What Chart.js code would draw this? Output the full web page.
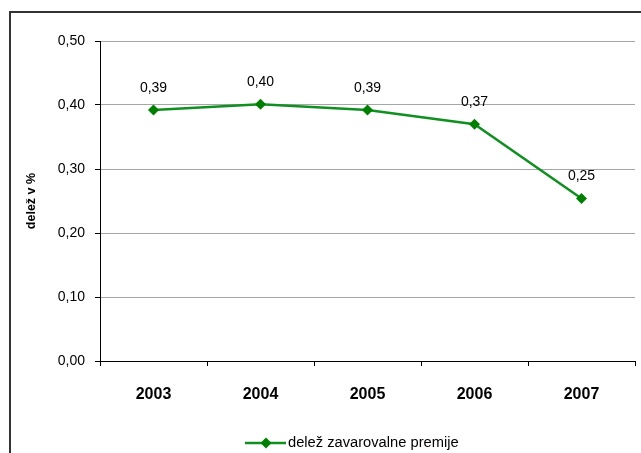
<!DOCTYPE html>
<html>
<head>
<meta charset="utf-8">
<script src="https://cdn.jsdelivr.net/npm/chart.js@4/dist/chart.umd.min.js"></script>
<style>
html,body{margin:0;padding:0;background:#fff;}
#wrap{position:relative;width:641px;height:453px;}
</style>
</head>
<body>
<div id="wrap"><canvas id="c" width="641" height="453"></canvas></div>
<script>
const years = ['2003', '2004', '2005', '2006', '2007'];
const shareValues = [0.392, 0.401, 0.392, 0.370, 0.254];
const seriesName = 'delež zavarovalne premije';
const yTitle = 'delež v %';
const yTicks = [0, 0.1, 0.2, 0.3, 0.4, 0.5];

const FONT = "'Liberation Sans', Arial, sans-serif";
const GREEN = '#008000';
const fmt = v => v.toFixed(2).replace('.', ',');

const framePlugin = {
  id: 'frame',
  afterDraw(chart) {
    const ctx = chart.ctx;
    ctx.save();
    ctx.fillStyle = '#333333';
    ctx.fillRect(9, 11, 632, 2);
    ctx.fillRect(9, 11, 2, 442);
    ctx.restore();
  }
};

const labelPlugin = {
  id: 'valueLabels',
  afterDatasetsDraw(chart) {
    const ctx = chart.ctx;
    const meta = chart.getDatasetMeta(0);
    ctx.save();
    ctx.font = '14px ' + FONT;
    ctx.fillStyle = '#000';
    ctx.textAlign = 'center';
    ctx.textBaseline = 'middle';
    meta.data.forEach((pt, i) => {
      ctx.fillText(fmt(chart.data.datasets[0].data[i]), pt.x, pt.y - 22);
    });
    ctx.restore();
  }
};

const legendPlugin = {
  id: 'customLegend',
  afterDraw(chart) {
    const ctx = chart.ctx;
    const y = 443;
    ctx.save();
    ctx.strokeStyle = '#109020';
    ctx.lineWidth = 2.5;
    ctx.beginPath();
    ctx.moveTo(245, y);
    ctx.lineTo(286, y);
    ctx.stroke();
    ctx.fillStyle = GREEN;
    ctx.beginPath();
    ctx.moveTo(266, y - 5.5);
    ctx.lineTo(271.5, y);
    ctx.lineTo(266, y + 5.5);
    ctx.lineTo(260.5, y);
    ctx.closePath();
    ctx.fill();
    ctx.font = '14.7px ' + FONT;
    ctx.fillStyle = '#000';
    ctx.textAlign = 'left';
    ctx.textBaseline = 'middle';
    ctx.fillText(seriesName, 288, y);
    ctx.restore();
  }
};

new Chart(document.getElementById('c'), {
  type: 'line',
  data: {
    labels: years,
    datasets: [{
      label: seriesName,
      data: shareValues,
      borderColor: '#109020',
      borderWidth: 2.5,
      pointStyle: 'rectRot',
      pointRadius: 5.5,
      pointBackgroundColor: GREEN,
      pointBorderColor: GREEN,
      pointBorderWidth: 0,
      tension: 0
    }]
  },
  options: {
    responsive: false,
    animation: false,
    devicePixelRatio: 1,
    layout: { padding: { left: 0, top: 41, right: 6, bottom: 0 } },
    plugins: { legend: { display: false }, tooltip: { enabled: false } },
    scales: {
      x: {
        offset: true,
        afterFit(s) { s.height = 92; },
        grid: { display: true, drawOnChartArea: false, offset: true, tickLength: 5, tickColor: '#000', tickWidth: 1 },
        border: { display: true, color: '#000', width: 1 },
        ticks: { color: '#000', padding: 19, font: { family: FONT, size: 16, weight: 'bold' }, maxRotation: 0 }
      },
      y: {
        min: 0,
        max: 0.5,
        afterFit(s) { s.width = 100; },
        afterBuildTicks(s) { s.ticks = yTicks.map(v => ({ value: v })); },
        grid: { color: '#a6a6a6', lineWidth: 1, tickLength: 5, tickColor: '#000' },
        border: { display: true, color: '#000', width: 1 },
        ticks: { color: '#000', padding: 10, font: { family: FONT, size: 14 }, callback: v => fmt(v) },
        title: { display: true, text: yTitle, color: '#000', font: { family: FONT, size: 12.5, weight: 'bold' }, padding: { top: 24, bottom: 0 } }
      }
    }
  },
  plugins: [framePlugin, labelPlugin, legendPlugin]
});
</script>
</body>
</html>
